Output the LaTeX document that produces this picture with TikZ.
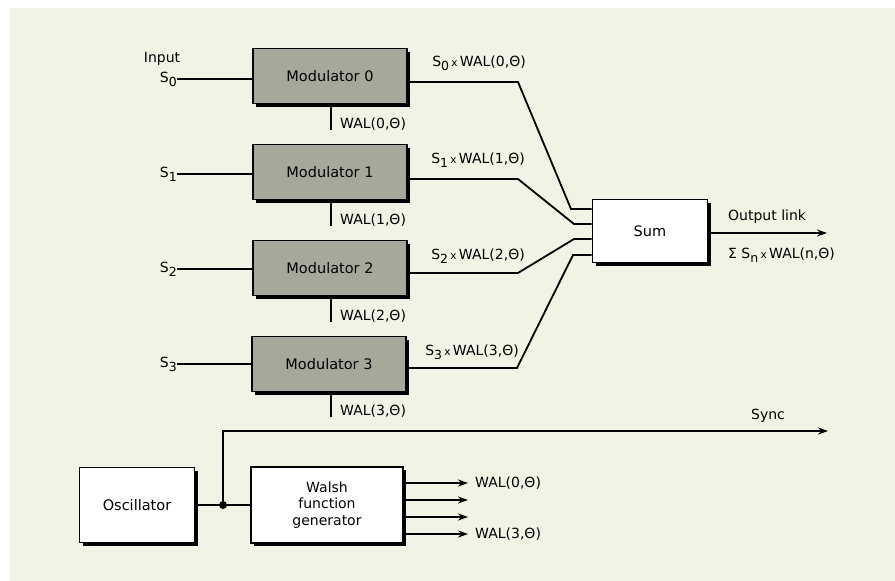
\documentclass[tikz,border=0pt]{standalone}
\usepackage{fontspec}
\setmainfont{DejaVu Sans}
\usetikzlibrary{arrows.meta,shadows}
\definecolor{bgcol}{HTML}{F2F3E4}
\definecolor{modgray}{HTML}{A8A89A}
\newcommand\sbs[1]{\raisebox{-0.5ex}{\fontsize{12.5}{12.5}\selectfont #1}}
\newcommand\tms{\,{\fontsize{10.5}{10.5}\selectfont x}\,}
\tikzset{
  boxbase/.style={draw, line width=1.8pt, font=\fontsize{14.5}{17}\selectfont, align=center,
    general shadow={fill=black, shadow xshift=3pt, shadow yshift=-3pt}},
  modbox/.style={boxbase, fill=modgray, minimum width=154pt, minimum height=55pt},
  whitebox/.style={boxbase, fill=white},
  wire/.style={line width=1.8pt},
  arr/.style={wire, -{Stealth[length=10pt,width=7pt]}},
  lbl/.style={font=\fontsize{14}{16}\selectfont, inner sep=0pt}
}
\begin{document}
\begin{tikzpicture}[x=1pt,y=-1pt]
\useasboundingbox (0,0) rectangle (895,581);
\fill[white] (0,0) rectangle (895,581);
\fill[bgcol] (10,8) rectangle (895,581);

% modulators
\node[modbox] (m0) at (330,76) {Modulator 0};
\node[modbox] (m1) at (330,172) {Modulator 1};
\node[modbox] (m2) at (330,268) {Modulator 2};
\node[modbox] (m3) at (329,364) {Modulator 3};

% sum
\node[whitebox, minimum width=115pt, minimum height=63pt] (sum) at (650,231) {Sum};

% oscillator & walsh
\node[whitebox, minimum width=115pt, minimum height=75pt] (osc) at (137,505) {Oscillator};
\node[whitebox, minimum width=152pt, minimum height=76pt, font=\fontsize{14}{16.5}\selectfont] (wg) at (327,505) {Walsh\\function\\generator};

% input labels
\node[lbl] (inp) at (162,59) {Input};
\node[lbl, anchor=east] (s0) at (177,79) {S\sbs{0}};
\node[lbl, anchor=east] (s1) at (177,174) {S\sbs{1}};
\node[lbl, anchor=east] (s2) at (177,269) {S\sbs{2}};
\node[lbl, anchor=east] (s3) at (177,364) {S\sbs{3}};
\draw[wire] (s0.east) -- (s0.east -| m0.west);
\draw[wire] (s1.east) -- (s1.east -| m1.west);
\draw[wire] (s2.east) -- (s2.east -| m2.west);
\draw[wire] (s3.east) -- (s3.east -| m3.west);

% WAL inputs below modulators
\coordinate (w0) at (331,130);
\coordinate (w1) at (331,226);
\coordinate (w2) at (331,322);
\coordinate (w3) at (331,417);
\draw[wire] (m0.south -| w0) -- (w0);
\draw[wire] (m1.south -| w1) -- (w1);
\draw[wire] (m2.south -| w2) -- (w2);
\draw[wire] (m3.south -| w3) -- (w3);
\node[lbl, anchor=west] (wl0) at (340,124) {WAL(0,Θ)};
\node[lbl, anchor=west] (wl1) at (340,220) {WAL(1,Θ)};
\node[lbl, anchor=west] (wl2) at (340,316) {WAL(2,Θ)};
\node[lbl, anchor=west] (wl3) at (340,411) {WAL(3,Θ)};

% modulator outputs to sum
\coordinate (b0) at (518,82);  \coordinate (c0) at (571,209);
\coordinate (b1) at (518,179); \coordinate (c1) at (574,224);
\coordinate (b2) at (518,273); \coordinate (c2) at (574,239);
\coordinate (b3) at (517,368); \coordinate (c3) at (573,255);
\draw[wire] (m0.east |- b0) -- (b0) -- (c0) -- (c0 -| sum.west);
\draw[wire] (m1.east |- b1) -- (b1) -- (c1) -- (c1 -| sum.west);
\draw[wire] (m2.east |- b2) -- (b2) -- (c2) -- (c2 -| sum.west);
\draw[wire] (m3.east |- b3) -- (b3) -- (c3) -- (c3 -| sum.west);
\node[lbl] (p0) at (479,63) {S\sbs{0}\tms WAL(0,Θ)};
\node[lbl] (p1) at (478,160) {S\sbs{1}\tms WAL(1,Θ)};
\node[lbl] (p2) at (478,256) {S\sbs{2}\tms WAL(2,Θ)};
\node[lbl] (p3) at (472,352) {S\sbs{3}\tms WAL(3,Θ)};

% sum output
\coordinate (out) at (827,233);
\draw[arr] (sum.east |- out) -- (out);
\node[lbl, anchor=west] (ol) at (728,217) {Output link};
\node[lbl, anchor=west] (sig) at (728,255) {Σ S\sbs{n}\tms WAL(n,Θ)};

% oscillator, junction, sync
\coordinate (j) at (223,505);
\coordinate (sy) at (828,431);
\draw[wire] (osc.east) -- (wg.west);
\fill (j) circle (4pt);
\draw[arr] (j) |- (sy);
\node[lbl] (sync) at (768,416) {Sync};

% walsh outputs
\coordinate (o0) at (468,483);
\coordinate (o1) at (468,500);
\coordinate (o2) at (468,517);
\coordinate (o3) at (468,534);
\draw[arr] (o0 -| wg.east) -- (o0);
\draw[arr] (o1 -| wg.east) -- (o1);
\draw[arr] (o2 -| wg.east) -- (o2);
\draw[arr] (o3 -| wg.east) -- (o3);
\node[lbl, anchor=west] (wo0) at (475,483) {WAL(0,Θ)};
\node[lbl, anchor=west] (wo3) at (475,534) {WAL(3,Θ)};
\end{tikzpicture}
\end{document}
